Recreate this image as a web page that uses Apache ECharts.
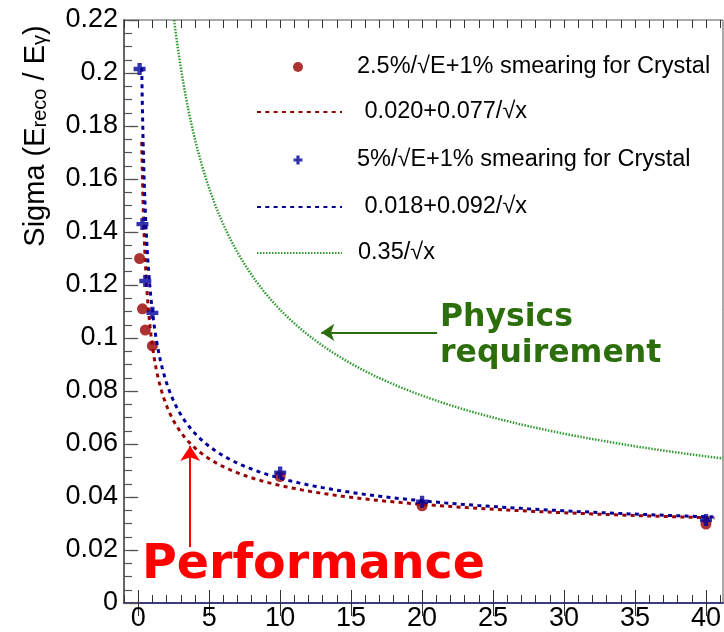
<!DOCTYPE html>
<html>
<head>
<meta charset="utf-8">
<script src="https://cdn.jsdelivr.net/npm/echarts@6/dist/echarts.min.js"></script>
<style>
  html, body { margin: 0; padding: 0; background: #fff; }
  #chart { width: 724px; height: 632px; }
</style>
</head>
<body>
<div id="chart"></div>
<script>
// Photon energy points (GeV) and reconstructed energy resolution
const energies = [0.1, 0.3, 0.5, 1, 10, 20, 40];
const sigmaCrystal25 = [0.130, 0.111, 0.103, 0.097, 0.0477, 0.0367, 0.0298];
const sigmaCrystal5 = [0.2015, 0.143, 0.1215, 0.1095, 0.0492, 0.0382, 0.0313];

// Fit results quoted in the legend: sigma = constant + stochastic / sqrt(E)
const fitCrystal25 = [0.020, 0.077];
const fitCrystal5 = [0.018, 0.092];
const fitRange = [0.25, 40.6];
// Requirement curve: 0.35 / sqrt(E)
const requirementTerm = 0.35;

// Axis ticks
const xMajorTicks = [0, 5, 10, 15, 20, 25, 30, 35, 40];
const xMinorTicks = [-1, 0, 1, 2, 3, 4, 5, 6, 7, 8, 9, 10, 11, 12, 13, 14, 15, 16, 17, 18, 19, 20,
  21, 22, 23, 24, 25, 26, 27, 28, 29, 30, 31, 32, 33, 34, 35, 36, 37, 38, 39, 40, 41];

// Series names
const nameCrystal25 = '2.5%/√E+1% smearing for Crystal';
const nameFit25 = ' 0.020+0.077/√x';
const nameCrystal5 = '5%/√E+1% smearing for Crystal';
const nameFit5 = ' 0.018+0.092/√x';
const nameRequirement = '0.35/√x';

const X_MIN = -1, X_MAX = 41.2, Y_MIN = 0, Y_MAX = 0.22;

// Sample a c + s/sqrt(x) curve on a geometric grid (dense where it is steep)
function resolutionCurve(c, s, x0, x1, n) {
  const pts = [];
  for (let i = 0; i < n; i++) {
    const x = x0 * Math.pow(x1 / x0, i / (n - 1));
    pts.push([x, c + s / Math.sqrt(x)]);
  }
  return pts;
}

const pointsCrystal25 = energies.map((e, i) => [e, sigmaCrystal25[i]]);
const pointsCrystal5 = energies.map((e, i) => [e, sigmaCrystal5[i]]);
const curveFit25 = resolutionCurve(fitCrystal25[0], fitCrystal25[1], fitRange[0], fitRange[1], 300);
const curveFit5 = resolutionCurve(fitCrystal5[0], fitCrystal5[1], fitRange[0], fitRange[1], 300);
const reqStart = Math.pow(requirementTerm / Y_MAX, 2);
const curveRequirement = resolutionCurve(0, requirementTerm, reqStart, X_MAX, 300);

const RED = '#990000';
const BLUE = '#000099';
const GREEN = '#2f9a2f';
const DARKGREEN = '#2d6e0c';
const FONT = 'Liberation Sans, Arial, sans-serif';
const BOLD = 'DejaVu Sans, Verdana, sans-serif';

// Thick "+" marker
const crossPath = 'path://M3.2,0H6.8V3.2H10V6.8H6.8V10H3.2V6.8H0V3.2H3.2Z';

const legendText = { fontFamily: FONT, fontSize: 23.5, color: '#000', lineHeight: 26 };

// Marker entries: a small square box centred on the marker column, text pushed right
function markerLegend(name, top, size) {
  return {
    data: [name], top: top, left: 298 - size / 2, orient: 'horizontal', padding: 0,
    itemWidth: size, itemHeight: size, selectedMode: false,
    textStyle: Object.assign({ padding: [0, 0, 0, 357 - (298 + size / 2 + 5)] }, legendText)
  };
}
// Line entries: a long sample of the line style, no marker dot
function lineLegend(name, top) {
  return {
    data: [name], top: top, left: 256, orient: 'horizontal', padding: 0,
    itemWidth: 85, itemHeight: 10, selectedMode: false,
    itemStyle: { opacity: 0 },
    textStyle: Object.assign({ padding: [0, 0, 0, 11] }, legendText)
  };
}

const chart = echarts.init(document.getElementById('chart'), null, { renderer: 'canvas' });

chart.setOption({
  animation: false,
  backgroundColor: '#fff',
  grid: {
    left: 124, top: 20, width: 599, height: 584,
    show: true, borderColor: '#555', borderWidth: 1, backgroundColor: 'transparent'
  },
  legend: [
    markerLegend(nameCrystal25, 54, 10),
    lineLegend(nameFit25, 99),
    markerLegend(nameCrystal5, 147, 9),
    lineLegend(nameFit5, 194),
    lineLegend(nameRequirement, 240)
  ],
  xAxis: [
    {
      type: 'value', min: X_MIN, max: X_MAX, position: 'bottom',
      axisLine: { show: true, onZero: false, lineStyle: { color: '#3c3c80', width: 2 } },
      axisTick: { show: true, inside: true, length: 13, customValues: xMajorTicks, lineStyle: { color: '#333', width: 1 } },
      axisLabel: { show: true, customValues: xMajorTicks, fontFamily: FONT, fontSize: 27, color: '#000', margin: 2 },
      splitLine: { show: false }
    },
    {
      type: 'value', min: X_MIN, max: X_MAX, position: 'bottom',
      axisLine: { show: false },
      axisTick: { show: true, inside: true, length: 8, customValues: xMinorTicks, lineStyle: { color: '#333', width: 1 } },
      axisLabel: { show: false },
      splitLine: { show: false }
    },
    {
      type: 'value', min: X_MIN, max: X_MAX, position: 'top',
      axisLine: { show: false },
      axisTick: { show: true, inside: true, length: 13, customValues: xMajorTicks, lineStyle: { color: '#333', width: 1 } },
      axisLabel: { show: false },
      splitLine: { show: false }
    },
    {
      type: 'value', min: X_MIN, max: X_MAX, position: 'top',
      axisLine: { show: false },
      axisTick: { show: true, inside: true, length: 8, customValues: xMinorTicks, lineStyle: { color: '#333', width: 1 } },
      axisLabel: { show: false },
      splitLine: { show: false }
    }
  ],
  yAxis: [
    {
      type: 'value', min: Y_MIN, max: Y_MAX, interval: 0.02, position: 'left',
      axisLine: { show: true, onZero: false, lineStyle: { color: '#666', width: 2 } },
      axisTick: { show: true, inside: true, length: 13, lineStyle: { color: '#555', width: 1.2 } },
      minorTick: { show: true, splitNumber: 4, length: 8, lineStyle: { color: '#555', width: 1.2 } },
      axisLabel: { fontFamily: FONT, fontSize: 27, color: '#000', margin: 6 },
      splitLine: { show: false }
    },
    {
      type: 'value', min: Y_MIN, max: Y_MAX, interval: 0.02, position: 'right',
      axisLine: { show: false },
      axisTick: { show: true, inside: true, length: 9, lineStyle: { color: '#555', width: 1.2 } },
      axisLabel: { show: false },
      splitLine: { show: false }
    }
  ],
  series: [
    {
      name: nameCrystal25, type: 'scatter', data: pointsCrystal25,
      symbol: 'circle', symbolSize: 11, itemStyle: { color: RED }, z: 3
    },
    {
      name: nameFit25, type: 'line', data: curveFit25, symbol: 'none', showSymbol: false,
      lineStyle: { color: RED, width: 3, type: [4, 4.3], cap: 'butt' }, itemStyle: { color: RED }, z: 4,
      markLine: {
        silent: true, symbol: ['none', 'arrow'], symbolSize: 15, label: { show: false },
        lineStyle: { color: '#ff0000', width: 2, type: 'solid' },
        data: [[{ coord: [3.66, 0.0211] }, { coord: [3.66, 0.0592] }]]
      }
    },
    {
      name: nameCrystal5, type: 'scatter', data: pointsCrystal5,
      symbol: crossPath, symbolSize: 12, itemStyle: { color: BLUE }, z: 5
    },
    {
      name: nameFit5, type: 'line', data: curveFit5, symbol: 'none', showSymbol: false,
      lineStyle: { color: BLUE, width: 3, type: [4, 4.3], cap: 'butt' }, itemStyle: { color: BLUE }, z: 6
    },
    {
      name: nameRequirement, type: 'line', data: curveRequirement, symbol: 'none', showSymbol: false,
      lineStyle: { color: GREEN, width: 2.5, type: [1.5, 1.5], cap: 'butt' }, itemStyle: { color: GREEN }, z: 2,
      markLine: {
        silent: true, symbol: ['none', 'arrow'], symbolSize: 13, label: { show: false },
        lineStyle: { color: DARKGREEN, width: 2, type: 'solid' },
        data: [[{ coord: [21.06, 0.1021] }, { coord: [12.9, 0.1021] }]]
      }
    }
  ],
  graphic: [
    {
      type: 'text', x: 36, y: 136, rotation: Math.PI / 2,
      style: {
        text: '{m|Sigma (E}{s|reco}{m| / E}{s|γ}{m|)}',
        align: 'center', verticalAlign: 'middle', fill: '#000',
        rich: {
          m: { fontFamily: FONT, fontSize: 29, lineHeight: 29, verticalAlign: 'top', padding: [0, 0, 15, 0] },
          s: { fontFamily: FONT, fontSize: 20, lineHeight: 20, verticalAlign: 'bottom' }
        }
      }
    },
    {
      type: 'text', x: 440, y: 318,
      style: { text: 'Physics', fontFamily: BOLD, fontWeight: 'bold', fontSize: 31.5, fill: DARKGREEN, align: 'left', verticalAlign: 'middle' }
    },
    {
      type: 'text', x: 440, y: 354,
      style: { text: 'requirement', fontFamily: BOLD, fontWeight: 'bold', fontSize: 31.5, fill: DARKGREEN, align: 'left', verticalAlign: 'middle' }
    },
    {
      type: 'text', x: 142, y: 566,
      style: { text: 'Performance', fontFamily: BOLD, fontWeight: 'bold', fontSize: 47.5, fill: '#ff0000', align: 'left', verticalAlign: 'middle' }
    }
  ]
});
</script>
</body>
</html>
